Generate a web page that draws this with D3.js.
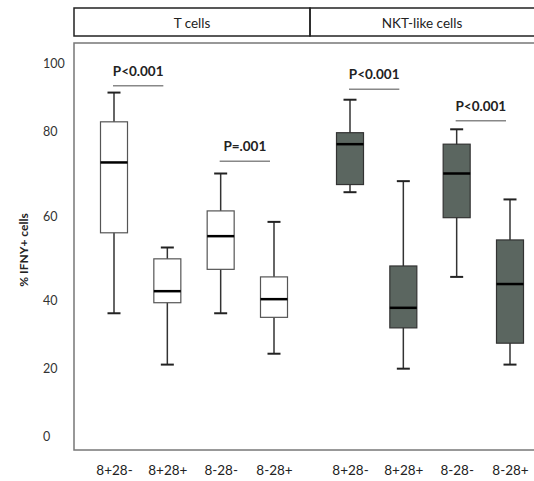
<!DOCTYPE html>
<html lang="en">
<head>
<meta charset="UTF-8">
<title>IFN-gamma box plots</title>
<script src="https://cdn.jsdelivr.net/npm/d3@7/dist/d3.min.js"></script>
<style>
  body { margin: 0; background: #fff; }
  svg { font-family: Lato, "Open Sans", sans-serif; }
</style>
</head>
<body>
<svg id="chart" width="534" height="481"></svg>
<script>
// data
var panels = ["T cells", "NKT-like cells"];
var categories = ["8+28-", "8+28+", "8-28-", "8-28+"];
// one entry per box, T cells first then NKT-like cells
var whiskerLow  = [36.1, 21.0, 36.1, 24.2, 65.6, 19.8, 45.5, 21.0];
var q1          = [56.0, 39.2, 47.3, 34.9, 67.4, 31.8, 59.6, 27.3];
var median      = [72.6, 42.1, 55.2, 40.2, 76.9, 37.7, 70.0, 43.8];
var q3          = [82.7, 49.8, 61.2, 45.5, 79.6, 48.1, 76.9, 54.3];
var whiskerHigh = [91.3, 52.5, 70.0, 58.6, 89.2, 68.2, 80.5, 63.9];
var yTicks = [0, 20, 40, 60, 80, 100];
// significance bars
var sigLabels = ["P<0.001", "P=.001", "P<0.001", "P<0.001"];
var sigPanel  = [0, 0, 1, 1];
var sigFrom   = [0, 2, 0, 2];
var sigValue  = [93.3, 72.9, 92.3, 83.0];

var fills = ["#ffffff", "#5b6660"];

var svg = d3.select("#chart");

// the printed axis is not evenly spaced, so map each tick to where it sits
var y = d3.scaleLinear().domain(yTicks).range([436, 368, 300, 216, 131, 63]);
var px = d3.scaleBand().domain(panels).range([74, 546]);
var inner = d3.scalePoint().domain(categories).range([40, 200]);

var boxW = 27, capW = 13;

// header strip
var head = svg.append("g");
head.selectAll("rect")
  .data(panels)
  .enter().append("rect")
  .attr("x", function(d) { return px(d); })
  .attr("y", 8)
  .attr("width", px.bandwidth())
  .attr("height", 28)
  .attr("fill", "none")
  .attr("stroke", "#222")
  .attr("stroke-width", 1.5);
head.selectAll("text")
  .data(panels)
  .enter().append("text")
  .attr("x", function(d, i) { return i == 0 ? px(d) + px.bandwidth() / 2 : (px(d) + 534) / 2; })
  .attr("y", 27.5)
  .attr("text-anchor", "middle")
  .attr("font-size", 13.5)
  .attr("fill", "#222")
  .text(function(d) { return d; });

// plot frame
svg.append("rect")
  .attr("x", 74).attr("y", 43)
  .attr("width", 480).attr("height", 407)
  .attr("fill", "none")
  .attr("stroke", "#777")
  .attr("stroke-width", 1.5);

// y axis, labels left aligned
var yAxis = svg.append("g")
  .attr("transform", "translate(43,0)")
  .call(d3.axisLeft(y).tickValues(yTicks).tickSize(0));
yAxis.select(".domain").remove();
yAxis.selectAll("text")
  .attr("x", 0)
  .attr("text-anchor", "start")
  .attr("font-family", "Lato, sans-serif")
  .attr("font-size", 12.5)
  .attr("fill", "#333");

svg.append("text")
  .attr("transform", "translate(28,250) rotate(-90)")
  .attr("text-anchor", "middle")
  .attr("font-size", 12)
  .attr("font-weight", "bold")
  .attr("fill", "#222")
  .text("% IFNY+ cells");

// x axes, one per panel
panels.forEach(function(p) {
  var g = svg.append("g")
    .attr("transform", "translate(" + px(p) + ",462)")
    .call(d3.axisBottom(inner).tickSize(0));
  g.select(".domain").remove();
  g.selectAll("text")
    .attr("font-family", "Lato, sans-serif")
    .attr("font-size", 13.5)
    .attr("fill", "#222");
});

// boxes
var boxes = d3.range(whiskerLow.length).map(function(i) {
  var p = panels[Math.floor(i / 4)];
  return { i: i, panel: Math.floor(i / 4), cx: px(p) + inner(categories[i % 4]) };
});

var bx = svg.selectAll("g.box")
  .data(boxes)
  .enter().append("g")
  .attr("class", "box");

bx.append("line")
  .attr("x1", function(d) { return d.cx; })
  .attr("x2", function(d) { return d.cx; })
  .attr("y1", function(d) { return y(whiskerHigh[d.i]); })
  .attr("y2", function(d) { return y(whiskerLow[d.i]); })
  .attr("stroke", "#333")
  .attr("stroke-width", 1.5);

bx.selectAll("line.cap")
  .data(function(d) { return [[d, whiskerHigh[d.i]], [d, whiskerLow[d.i]]]; })
  .enter().append("line")
  .attr("class", "cap")
  .attr("x1", function(d) { return d[0].cx - capW / 2; })
  .attr("x2", function(d) { return d[0].cx + capW / 2; })
  .attr("y1", function(d) { return y(d[1]); })
  .attr("y2", function(d) { return y(d[1]); })
  .attr("stroke", "#222")
  .attr("stroke-width", 2);

bx.append("rect")
  .attr("x", function(d) { return d.cx - boxW / 2; })
  .attr("y", function(d) { return y(q3[d.i]); })
  .attr("width", boxW)
  .attr("height", function(d) { return y(q1[d.i]) - y(q3[d.i]); })
  .attr("fill", function(d) { return fills[d.panel]; })
  .attr("stroke", function(d) { return d.panel ? "#333" : "#555"; })
  .attr("stroke-width", 1.2);

bx.append("line")
  .attr("x1", function(d) { return d.cx - boxW / 2; })
  .attr("x2", function(d) { return d.cx + boxW / 2; })
  .attr("y1", function(d) { return y(median[d.i]); })
  .attr("y2", function(d) { return y(median[d.i]); })
  .attr("stroke", "#000")
  .attr("stroke-width", 2.5);

// significance annotations
sigLabels.forEach(function(lab, k) {
  var p = panels[sigPanel[k]];
  var xa = px(p) + inner(categories[sigFrom[k]]) - 1;
  var xb = px(p) + inner(categories[sigFrom[k] + 1]) - 4;
  var yy = y(sigValue[k]);
  svg.append("line")
    .attr("x1", xa).attr("x2", xb)
    .attr("y1", yy).attr("y2", yy)
    .attr("stroke", "#888")
    .attr("stroke-width", 1.5);
  svg.append("text")
    .attr("x", (xa + xb) / 2)
    .attr("y", yy - 10)
    .attr("text-anchor", "middle")
    .attr("font-size", 13.5)
    .attr("font-weight", "bold")
    .attr("fill", "#222")
    .text(lab);
});
</script>
</body>
</html>
